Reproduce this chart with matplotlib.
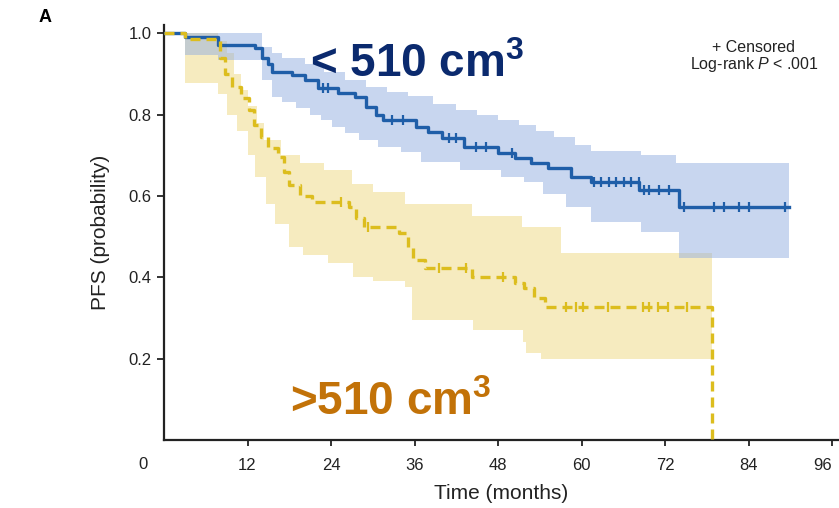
import numpy as np
import matplotlib
matplotlib.use('Agg')
import matplotlib.pyplot as plt

plt.rcParams['font.family'] = ['Liberation Sans', 'DejaVu Sans']
plt.rcParams['mathtext.fontset'] = 'custom'
plt.rcParams['mathtext.rm'] = 'Liberation Sans'
plt.rcParams['mathtext.it'] = 'Liberation Sans:italic'
plt.rcParams['mathtext.bf'] = 'Liberation Sans:bold'

# < 510 cm3 group (blue): KM steps, 95% CI, censored times
blue_t = [0, 3, 7.8, 13.1, 14.1, 15, 15.5, 18.4, 20.3, 22.2, 25, 27.5, 29, 30.5, 31.4,
          36.2, 38, 39.9, 43.1, 48, 50.4, 52.8, 55.2, 58.5, 61.4, 68.3, 74, 89.8]
blue_s = [1.0, 0.99, 0.97, 0.963, 0.94, 0.925, 0.905, 0.898, 0.885, 0.865, 0.853, 0.843, 0.818, 0.80, 0.786,
          0.77, 0.757, 0.742, 0.72, 0.705, 0.693, 0.68, 0.668, 0.646, 0.634, 0.614, 0.572, 0.572]
blue_up_t = [0, 14.1, 15.5, 17, 20.3, 23, 26, 29, 32, 35, 38.6, 42, 45, 48, 51, 53.5, 56, 59, 61.4, 68.6, 73.6, 89.8]
blue_up = [1.0, 0.966, 0.95, 0.94, 0.925, 0.905, 0.885, 0.867, 0.855, 0.845, 0.825, 0.812, 0.80, 0.786, 0.775,
           0.76, 0.745, 0.725, 0.71, 0.70, 0.68, 0.68]
blue_lo_t = [0, 3, 7.8, 14.1, 15.5, 17, 19, 21, 22.5, 24.2, 26, 28, 30.8, 34, 36.9, 42.6, 48.4, 51.7, 54.5,
             57.8, 61.4, 68.6, 74, 89.8]
blue_lo = [1.0, 0.946, 0.935, 0.885, 0.843, 0.83, 0.815, 0.80, 0.786, 0.77, 0.755, 0.738, 0.72, 0.708, 0.683,
           0.663, 0.646, 0.634, 0.605, 0.572, 0.536, 0.51, 0.447, 0.447]
blue_cens = [22.8, 23.6, 32.8, 34.3, 41, 42, 44.8, 46.3, 50, 61.8, 62.8, 64, 65, 66.1, 67.1, 68.2,
             69, 69.7, 71.2, 72.6, 74.8, 79.1, 80.5, 82.6, 84, 89.2]

# > 510 cm3 group (yellow)
yel_t = [0, 3.0, 8.0, 8.8, 9.8, 11.0, 12.2, 13.0, 14.0, 15.0, 16.4, 17.2, 17.9, 19.5, 21.2, 26.6, 27.6,
         28.7, 33.8, 35.0, 35.8, 37.5, 44.2, 50.5, 51.8, 53.2, 54.8, 78.7]
yel_s = [1.0, 0.985, 0.94, 0.90, 0.867, 0.84, 0.81, 0.775, 0.745, 0.717, 0.695, 0.658, 0.626, 0.60, 0.585,
         0.572, 0.545, 0.523, 0.508, 0.474, 0.442, 0.423, 0.40, 0.385, 0.373, 0.35, 0.327, 0.0]
yel_up_t = [0, 7.8, 9, 10, 11, 12, 13.3, 14.4, 16.8, 19.5, 23, 27, 30, 34.6, 44.3, 51.5, 57, 78.7]
yel_up = [1.0, 0.98, 0.95, 0.90, 0.86, 0.82, 0.78, 0.737, 0.70, 0.68, 0.663, 0.63, 0.61, 0.58, 0.55, 0.523,
          0.46, 0.46]
yel_lo_t = [0, 3, 7.8, 9, 10.5, 12, 13.1, 14.6, 16, 17.9, 20, 23.6, 27.1, 30, 34.7, 35.7, 44.4, 51.6, 52,
            54.2, 78.7]
yel_lo = [1.0, 0.877, 0.85, 0.80, 0.76, 0.70, 0.646, 0.58, 0.53, 0.474, 0.455, 0.435, 0.40, 0.39, 0.376,
          0.295, 0.27, 0.24, 0.214, 0.20, 0.20]
yel_cens = [25.5, 29.3, 39.5, 43.4, 48.7, 57.8, 59.2, 60.2, 63.8, 68.9, 69.7, 71, 72.5, 75.1]

x_ticks = [12, 24, 36, 48, 60, 72, 84, 96]
y_ticks = [0.2, 0.4, 0.6, 0.8, 1.0]

BLUE = '#1f5ea8'
YEL = '#dcbd1e'


def step_at(grid, t, v):
    # value of a right-continuous step function at the grid times
    idx = np.searchsorted(t, grid, side='right') - 1
    return np.asarray(v)[np.clip(idx, 0, len(v) - 1)]


def band(ax, up_t, up, lo_t, lo, color, alpha):
    grid = np.union1d(up_t, lo_t)
    ax.fill_between(grid, step_at(grid, lo_t, lo), step_at(grid, up_t, up), step='post',
                    color=color, alpha=alpha, lw=0, zorder=1)


fig = plt.figure(figsize=(8.39, 5.08), dpi=100)
ax = fig.add_axes([0.1955, 0.1339, 0.8028, 0.8169])

band(ax, yel_up_t, yel_up, yel_lo_t, yel_lo, '#f0dc8c', 0.55)
band(ax, blue_up_t, blue_up, blue_lo_t, blue_lo, '#93afe0', 0.5)

ax.step(blue_t, blue_s, where='post', color=BLUE, lw=2.4, zorder=3)
ax.plot(blue_cens, step_at(blue_cens, blue_t, blue_s), '|', color=BLUE, ms=7, mew=1.6, zorder=3)
ax.step(yel_t, yel_s, where='post', color=YEL, lw=2.4, dashes=(3.0, 1.8), zorder=4)
ax.plot(yel_cens, step_at(yel_cens, yel_t, yel_s), '|', color=YEL, ms=7, mew=1.6, zorder=4)

ax.set_xlim(0, 96.8)
ax.set_ylim(0, 1.02)
ax.set_xticks(x_ticks)
ax.set_yticks(y_ticks)
ax.set_yticklabels(['%.1f' % v for v in y_ticks])
for s in ['top', 'right']:
    ax.spines[s].set_visible(False)
for s in ['left', 'bottom']:
    ax.spines[s].set_linewidth(1.6)
    ax.spines[s].set_color('#222222')
ax.tick_params(axis='x', length=4, width=1.3, pad=9, labelsize=12, colors='#222222')
ax.tick_params(axis='y', length=5, width=1.3, pad=4, labelsize=12, colors='#222222')
ax.get_xticklabels()[-1].set_horizontalalignment('right')  # keep "96" inside the figure
ax.annotate('0', xy=(-3, 0), xycoords=ax.get_xaxis_transform(), xytext=(0, -12.5),
            textcoords='offset points', ha='center', va='top', fontsize=12, color='#222222')

ax.set_xlabel('Time (months)', fontsize=15, color='#222222', labelpad=8)
ax.set_ylabel('PFS (probability)', fontsize=15, color='#222222', labelpad=13)

ax.text(21.0, 0.892, r'< 510 cm$^{\mathbf{3}}$', fontsize=33, fontweight='bold', color='#0b2a6e',
        ha='left', va='baseline', zorder=5)
ax.text(18.1, 0.061, r'>510 cm$^{\mathbf{3}}$', fontsize=33, fontweight='bold', color='#c27208',
        ha='left', va='baseline', zorder=5)

fig.text(754 / 839, 1 - 47 / 508, '+ Censored', fontsize=11.5, ha='center', va='center', color='#222222')
fig.text(754 / 839, 1 - 65 / 508, r'Log-rank $\it{P}$ < .001', fontsize=11.5, ha='center', va='center',
         color='#222222')
fig.text(45 / 839, 1 - 18 / 508, 'A', fontsize=13, fontweight='bold', ha='center', va='center')

fig.savefig('out.png', dpi=100)
